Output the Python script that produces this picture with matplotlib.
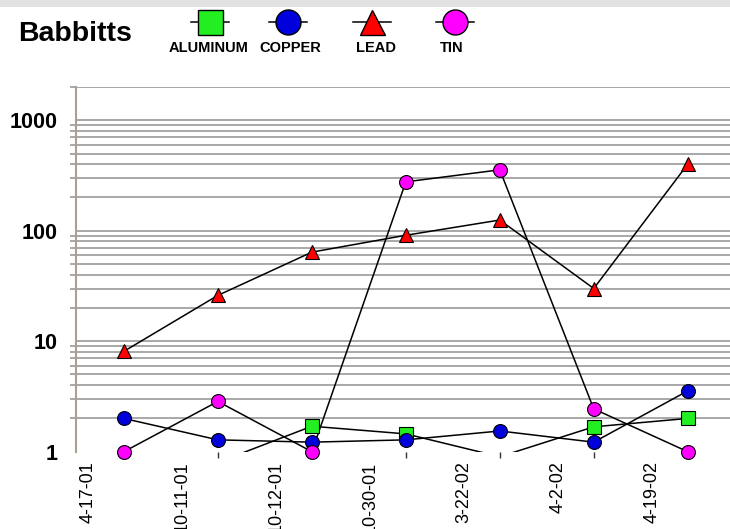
#!/usr/bin/env python3
"""
Babbitts trend chart: metal content per sample date on a log scale
"""

import numpy as np
import matplotlib
matplotlib.use("Agg")
import matplotlib.pyplot as plt
from matplotlib.lines import Line2D
from matplotlib.patches import Rectangle
from matplotlib import font_manager

plt.rcParams['font.family'] = ['Liberation Sans', 'DejaVu Sans']

# Sample dates and readings
dates = ["4-17-01", "10-11-01", "10-12-01", "10-30-01", "3-22-02", "4-2-02", "4-19-02"]
aluminum = [np.nan, 0.8, 1.7, 1.45, 0.9, 1.68, 2.0]
copper = [2.0, 1.28, 1.22, 1.28, 1.54, 1.22, 3.55]
lead = [8.1, 26, 64, 91, 125, 30, 400]
tin = [1.0, 2.85, 1.0, 277, 356, 2.44, 1.0]

series = [
    ("ALUMINUM", aluminum, "s", "#22ee22"),
    ("COPPER", copper, "o", "#0000dd"),
    ("LEAD", lead, "^", "#ff0000"),
    ("TIN", tin, "o", "#ff00ff"),
]

# narrow face for the legend captions if the system has it
names = {f.name for f in font_manager.fontManager.ttflist}
if 'Liberation Sans Narrow' in names:
    leg_font = dict(family=['Liberation Sans Narrow', 'DejaVu Sans'], fontsize=13, fontweight='bold')
else:
    leg_font = dict(fontsize=10.5, fontweight='bold')

W, H = 730, 529
fig = plt.figure(figsize=(W / 100, H / 100), dpi=100)
fig.patch.set_facecolor('white')

# grey strip along the top edge
fig.patches.append(Rectangle((0, 1 - 7 / H), 1, 7 / H, transform=fig.transFigure,
                             facecolor='#e2e2e2', edgecolor='none'))

ax = fig.add_axes([76 / W, 1 - 451.7 / H, 1 - 76 / W, (451.7 - 87) / H])
ax.set_yscale('log')
ax.set_ylim(1, 2000)
x = np.arange(len(dates))
ax.set_xlim(-0.51, 6.45)

# horizontal grid lines, none at the bottom edge
grid_vals = [m * 10 ** d for d in range(3) for m in range(2, 11)] + [2000]
for g in grid_vals:
    ax.axhline(g, color='#a8a8a8', lw=1.4, zorder=0)

ax.set_yticks([1, 10, 100, 1000])
ax.set_yticklabels(["1", "10", "100", "1000"], fontsize=15.5, fontweight='bold')
ax.set_yticks(grid_vals, minor=True)
ax.tick_params(axis='y', which='major', length=0, pad=13)
ax.tick_params(axis='y', which='minor', length=4, width=1.4, color='#a8a8a8')

ax.set_xticks(x - 0.38)
ax.set_xticklabels(dates, rotation=90, fontsize=13, va='top')
ax.set_xticks(x, minor=True)
ax.tick_params(axis='x', which='major', length=0, pad=7)
ax.tick_params(axis='x', which='minor', length=4, width=1, color='#333333')

for side in ['top', 'right', 'bottom']:
    ax.spines[side].set_visible(False)
ax.spines['left'].set_color('#a8a090')
ax.spines['left'].set_linewidth(1.5)

# lines clipped to the plot, markers drawn on top and allowed past the edge
for name, vals, mk, col in series:
    ax.plot(x, vals, color='black', lw=1.1, zorder=2)
for name, vals, mk, col in series:
    shown = np.ma.masked_less(np.asarray(vals, dtype=float), 1)
    ax.plot(x, shown, linestyle='none', marker=mk, markersize=10,
            markerfacecolor=col, markeredgecolor='black', markeredgewidth=0.8,
            zorder=3, clip_on=False)

# title and legend across the top
fig.text(18 / W, 1 - 34 / H, "Babbitts", fontsize=20.5, fontweight='bold',
         va='center', ha='left')
leg_x = [210, 288, 372, 455]
for (name, vals, mk, col), lx in zip(series, leg_x):
    fig.add_artist(Line2D([(lx - 19) / W, (lx + 19) / W], [1 - 21.5 / H, 1 - 21.5 / H],
                          transform=fig.transFigure, color='black', lw=1.1))
    fig.add_artist(Line2D([lx / W], [1 - 21.5 / H], transform=fig.transFigure,
                          marker=mk, markersize=18, markerfacecolor=col,
                          markeredgecolor='black', markeredgewidth=1))
lab_x = [209, 290, 376, 452]
for (name, vals, mk, col), tx in zip(series, lab_x):
    fig.text(tx / W, 1 - 48 / H, name, ha='center', va='center', **leg_font)

fig.savefig("out.png", dpi=100, facecolor='white')
